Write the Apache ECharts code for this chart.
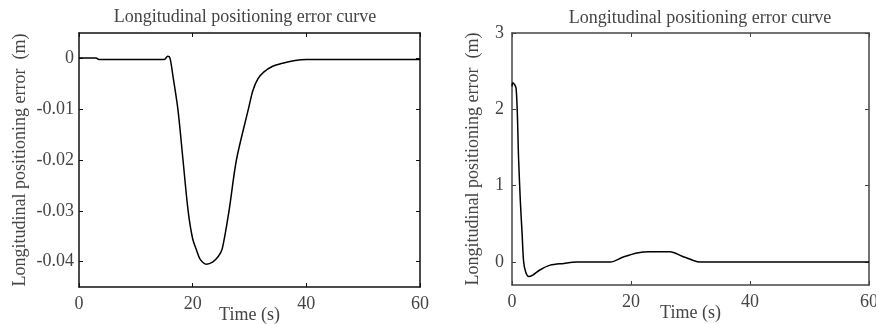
<!DOCTYPE html>
<html>
<head>
<meta charset="utf-8">
<script src="https://cdn.jsdelivr.net/npm/echarts@6/dist/echarts.min.js"></script>
<style>
  html, body { margin: 0; padding: 0; background: #fff; }
  #chart { width: 876px; height: 324px; }
</style>
</head>
<body>
<div id="chart"></div>
<script>
// left panel: error (m) vs time (s)
const leftTime = [0, 3, 3.5, 15, 15.6, 16.0, 16.6, 17.4, 18.3, 19.2, 20.0, 20.7, 21.3, 22.4, 23.5, 24.5, 25.2, 26.4, 27.7, 29.8, 30.6, 31.5, 32.5, 34, 36, 38, 40, 60];
const leftErr = [0.0001, 0.0001, -0.0002, -0.0002, 0.0004, 0.0001, -0.004, -0.01, -0.02, -0.03, -0.0355, -0.0378, -0.0395, -0.0405, -0.0401, -0.039, -0.0375, -0.03, -0.02, -0.01, -0.0063, -0.004, -0.0027, -0.0016, -0.0009, -0.0004, -0.0002, -0.0002];

// right panel
const rightTime = [0, 0.15, 0.7, 1.1, 1.4, 1.7, 1.95, 2.3, 2.8, 3.5, 4.75, 6.4, 8.7, 10.9, 16.5, 18.7, 21, 23.2, 26.6, 28.5, 30.5, 31.5, 60];
const rightErr = [2.3, 2.35, 2.27, 1.37, 0.8, 0.37, 0.01, -0.13, -0.19, -0.17, -0.1, -0.04, -0.017, 0, 0, 0.066, 0.12, 0.136, 0.136, 0.08, 0.02, 0, 0];

const xTicks = [0, 20, 40, 60];
const leftTicks = [0, -0.01, -0.02, -0.03, -0.04];
const rightTicks = [0, 1, 2, 3];

const titleText = 'Longitudinal positioning error curve';
const font = 'Liberation Serif';
const textColor = '#444';

const zip = (a, b) => a.map((v, i) => [v, b[i]]);

function xAxes(grid, lineColor) {
  const base = {
    type: 'value', gridIndex: grid, min: 0, max: 60, interval: 20,
    splitLine: {show: false},
    axisLine: {show: true, onZero: false, lineStyle: {color: lineColor, width: 1.5}},
    axisTick: {show: true, inside: true, length: 4, customValues: xTicks, lineStyle: {color: lineColor}}
  };
  return [
    Object.assign({}, base, {
      position: 'bottom',
      name: 'Time (s)', nameLocation: 'middle', nameGap: 19, nameMoveOverlap: false,
      nameTextStyle: {fontFamily: font, fontSize: 18, color: textColor},
      axisLabel: {margin: 8, fontFamily: font, fontSize: 18, color: textColor, customValues: xTicks}
    }),
    Object.assign({}, base, {position: 'top', axisLabel: {show: false}})
  ];
}

function yAxes(grid, min, max, ticks, gap, margin, lineColor) {
  const base = {
    type: 'value', gridIndex: grid, min: min, max: max,
    splitLine: {show: false},
    axisLine: {show: true, onZero: false, lineStyle: {color: lineColor, width: 1.5}},
    axisTick: {show: true, inside: true, length: 4, customValues: ticks, lineStyle: {color: lineColor}}
  };
  return [
    Object.assign({}, base, {
      position: 'left',
      name: 'Longitudinal positioning error  (m)', nameLocation: 'middle', nameGap: gap, nameMoveOverlap: false,
      nameTextStyle: {fontFamily: font, fontSize: 18, color: textColor},
      axisLabel: {
        margin: margin, fontFamily: font, fontSize: 18, color: textColor, customValues: ticks,
        formatter: v => String(Math.round(v * 1000) / 1000)
      }
    }),
    Object.assign({}, base, {position: 'right', axisLabel: {show: false}})
  ];
}

const chart = echarts.init(document.getElementById('chart'), null, {renderer: 'canvas'});
chart.setOption({
  animation: false,
  backgroundColor: '#fff',
  title: [
    {text: titleText, left: 240, top: 3, textAlign: 'center',
     textStyle: {fontFamily: font, fontSize: 18, fontWeight: 'normal', color: textColor}},
    {text: titleText, left: 695, top: 4, textAlign: 'center',
     textStyle: {fontFamily: font, fontSize: 18, fontWeight: 'normal', color: textColor}}
  ],
  grid: [
    {left: 79, right: 456, top: 33, bottom: 37, outerBoundsMode: 'none', containLabel: false},
    {left: 512, right: 7, top: 33, bottom: 39, outerBoundsMode: 'none', containLabel: false}
  ],
  xAxis: xAxes(0, '#111').concat(xAxes(1, '#444')),
  yAxis: yAxes(0, -0.045, 0.005, leftTicks, 50, 5, '#111')
    .concat(yAxes(1, -0.3, 3, rightTicks, 30, 8, '#444')),
  series: [
    {type: 'line', xAxisIndex: 0, yAxisIndex: 0, data: zip(leftTime, leftErr),
     showSymbol: false, smooth: 0.3, lineStyle: {color: '#000', width: 1.5}},
    {type: 'line', xAxisIndex: 2, yAxisIndex: 2, data: zip(rightTime, rightErr),
     showSymbol: false, smooth: 0.3, lineStyle: {color: '#000', width: 1.5}}
  ]
});
</script>
</body>
</html>
